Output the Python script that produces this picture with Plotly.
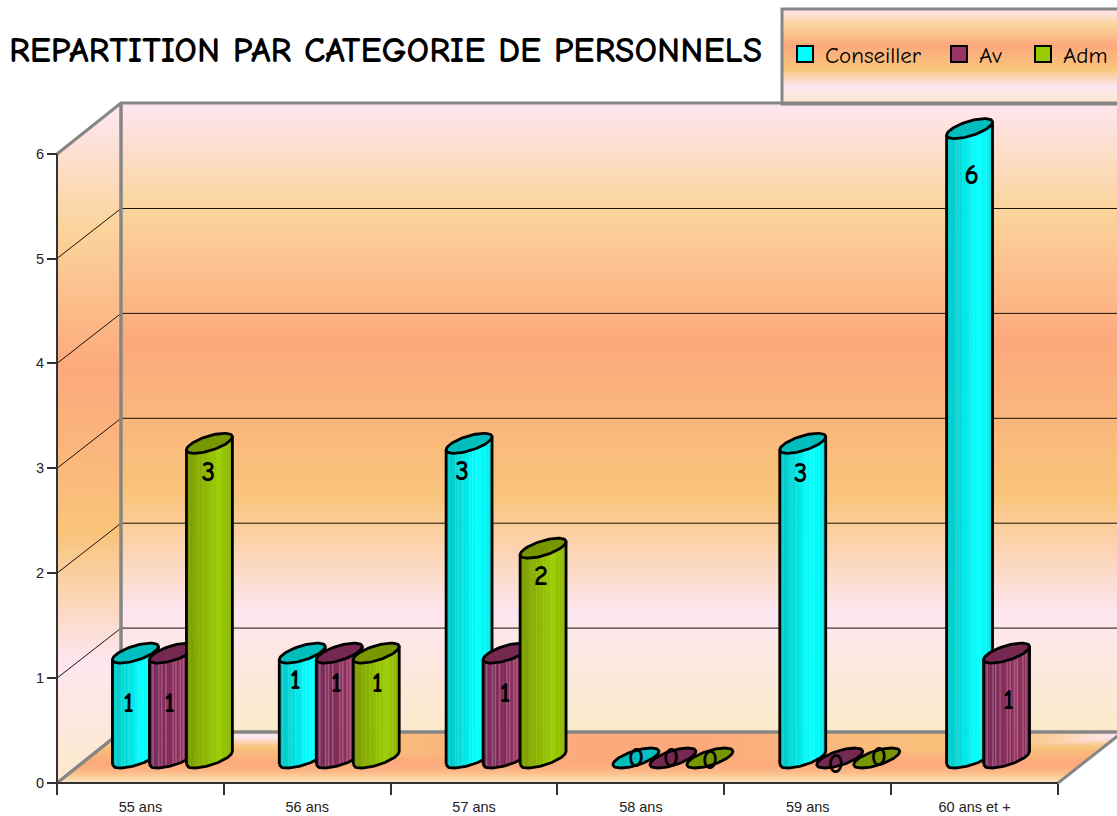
import math
import numpy as np
import plotly.graph_objects as go

# ---------- data ----------
categories = ["55 ans", "56 ans", "57 ans", "58 ans", "59 ans", "60 ans et +"]
conseiller = [1, 1, 3, 0, 3, 6]
av = [1, 1, 1, 0, 0, 1]
adm = [3, 1, 2, 0, 0, None]
y_ticks = [0, 1, 2, 3, 4, 5, 6]
title_text = "REPARTITION PAR CATEGORIE DE PERSONNELS"

# ---------- geometry (pixels of the 1117x816 picture) ----------
W, H = 1117, 816
X0, Y0 = 57, 783
CAT_W = 166.83
UNIT_H = 104.9
DEPTH_X, DEPTH_Y = 64, 51
BASE_LIFT = 25
SPACING = 37
U, V, T = 17.4, 15.0, 10.0          # oblique circle of a cylinder base
R = math.hypot(U, V)
PHI = math.atan2(V, U)
OUTLINE = 2.8


def X(px):
    return (px - X0) / CAT_W


def Y(py):
    return (Y0 - py) / UNIT_H


FONT = "Comic Sans MS, Comic Neue, Noto Sans, sans-serif"
ARIAL = "Arial, Liberation Sans, sans-serif"

profile = [
    [0.00, "#FEE6EF"], [0.17, "#FBD49C"], [0.38, "#FCA97C"],
    [0.50, "#FAB67C"], [0.62, "#F9C47A"], [0.81, "#FDE6F0"], [1.00, "#FBEAC8"],
]

fig = go.Figure()


def heat(xs, ys, z):
    fig.add_trace(go.Heatmap(
        x=xs, y=ys, z=z, colorscale=profile, zmin=0, zmax=1,
        showscale=False, hoverinfo="skip", showlegend=False))


# back wall
wy = np.arange(103, 733.01, 2.0)
mid = (wy[:-1] + wy[1:]) / 2
heat([X(121), X(W + 5)], [Y(v) for v in wy],
     [[float((m - 103) / 630)] for m in mid])

# side wall (a parallelogram with horizontal colour bands)
sx = np.arange(57, 122.01, 1.0)
sy = np.arange(103, 784.01, 1.0)
z = []
for py in (sy[:-1] + sy[1:]) / 2:
    row = []
    for px in (sx[:-1] + sx[1:]) / 2:
        top = 154 - (px - 57) * 51 / 64
        inside = top <= py <= top + 629
        row.append(min(1.0, float((py - 112) / 678)) if inside else None)
    z.append(row)
heat([X(v) for v in sx], [Y(v) for v in sy], z)

# floor (a parallelogram with a two-way texture)
fx = np.arange(57, W + 6.01, 2.0)
fy = np.arange(732, 783.01, 1.0)
ax_px = [57, 250, 330, 400, 520, 700, 800, 900, 1000, 1060, 1125]
ax_s = [.85, .85, .75, .55, .40, .38, .50, .57, .60, .70, .84]
by_px = [732, 735, 748, 760, 772, 783]
by_s = [.88, .85, .60, .42, .30, .04]
z = []
for py in (fy[:-1] + fy[1:]) / 2:
    b = float(np.interp(py, by_px, by_s))
    shift = (783 - py) * 64 / 51
    row = []
    for px in (fx[:-1] + fx[1:]) / 2:
        inside = 57 + shift <= px <= 1058 + shift
        row.append(min(float(np.interp(px, ax_px, ax_s)), b) if inside else None)
    z.append(row)
heat([X(v) for v in fx], [Y(v) for v in fy], z)


def line(pts, color, width):
    fig.add_trace(go.Scatter(
        x=[X(p[0]) if p else None for p in pts],
        y=[Y(p[1]) if p else None for p in pts],
        mode="lines", line=dict(color=color, width=width),
        hoverinfo="skip", showlegend=False))


# grid lines on walls
pts = []
for v in y_ticks[1:-1]:
    yf = Y0 - v * UNIT_H
    pts += [(57, yf), (121, yf - DEPTH_Y + 1), (W + 5, yf - DEPTH_Y + 1), None]
line(pts, "#1a1208", 1)

# wall edges
line([(57, 154), (121, 103), (W + 5, 103)], "#868686", 3)
line([(121, 103), (121, 732)], "#868686", 3.5)
line([(W + 5, 732), (121, 732), (57, 783)], "#868686", 3.5)
line([(1058, 783), (1124, 731)], "#868686", 3)
line([(57, 154), (57, 783), (1058, 783)], "#333333", 2)

# ---------- cylinders ----------
series = [
    dict(name="Conseiller", values=conseiller, top="#00BEBE", swatch="#00FFFF", stripe=0.12,
         stops=[(0, "#00C4C4"), (.25, "#00D8D8"), (.5, "#00F0F0"), (.62, "#00FFFF"), (.85, "#00FAFA"), (1, "#00D8D8")]),
    dict(name="Av", values=av, top="#752850", swatch="#993366", stripe=0.22,
         stops=[(0, "#7A2C5C"), (.5, "#862C5A"), (.75, "#96325F"), (1, "#7E2A55")]),
    dict(name="Adm", values=adm, top="#789600", swatch="#99CC00", stripe=0.08,
         stops=[(0, "#7A9900"), (.4, "#8DB800"), (.72, "#9ACD00"), (1, "#8AB000")]),
]
stripe_on = [0, 0, 1, 0, 0, 0, 1, 0, 1, 0, 0, 1, 0, 0, 0, 0, 1, 0, 1, 0, 0, 1, 0, 1, 0, 0, 0, 1, 0, 1, 0, 0]
N_BANDS = len(stripe_on)

# label placement relative to the cylinder (pixels), one per category and series
label_dx = [[-7, -7, -7, 0, -2, 2], [-3, -3, -1, -2, -4, 2], [-1, 1, -2, 0, 2, 0]]
label_dy = [[50, 27, 28, 0, 30, 47], [50, 30, 40, 0, 6, 47], [29, 30, 28, 2, -1, 0]]


def hex2rgb(h):
    return np.array([int(h[i:i + 2], 16) for i in (1, 3, 5)], float)


def shade(stops, p, stripe):
    ps = [a for a, _ in stops]
    cs = np.array([hex2rgb(c) for _, c in stops])
    c = np.array([np.interp(p, ps, cs[:, k]) for k in range(3)])
    c = c + (255 - c) * stripe
    return "rgb(%d,%d,%d)" % tuple(c)


def low(dx):
    d = max(-1.0, min(1.0, dx / R))
    return T * math.sin(PHI - math.acos(d))   # upward pixels of the lower arc


def centre(i, k):
    return X0 + (i + 0.5) * CAT_W + DEPTH_X / 2 + (k - 1) * SPACING


BASE = BASE_LIFT / UNIT_H

for k, s in enumerate(series):
    # body, as vertical colour bands
    for j in range(N_BANDS):
        a = -R + 2 * R * j / N_BANDS
        b = -R + 2 * R * (j + 1) / N_BANDS
        bx = b if j == N_BANDS - 1 else min(R, b + 0.6)
        xs, ys = [], []
        for i, v in enumerate(s["values"]):
            if v is None or v == 0:
                continue
            c = centre(i, k)
            xs += [X(c + a), X(c + bx), X(c + bx), X(c + a), X(c + a), None]
            ys += [BASE + low(a) / UNIT_H, BASE + low(bx) / UNIT_H,
                   BASE + v + low(bx) / UNIT_H, BASE + v + low(a) / UNIT_H,
                   BASE + low(a) / UNIT_H, None]
        fig.add_trace(go.Scatter(
            x=xs, y=ys, mode="lines", fill="toself", line=dict(width=0),
            fillcolor=shade(s["stops"], (j + .5) / N_BANDS, s["stripe"] * stripe_on[j]),
            hoverinfo="skip", showlegend=False))

    # top ellipses and outline
    tt = np.linspace(0, 2 * math.pi, 73)
    ex, ey, ox, oy = [], [], [], []
    for i, v in enumerate(s["values"]):
        if v is None:
            continue
        c = centre(i, k)
        for t in tt:
            ex.append(X(c + U * math.cos(t) + V * math.sin(t)))
            ey.append(BASE + v + T * math.sin(t) / UNIT_H)
        ex.append(None)
        ey.append(None)
        if v > 0:
            dd = np.linspace(-R, R, 41)
            ox += [X(c + d) for d in dd] + [X(c + R), None, X(c - R), X(c - R), None]
            oy += [BASE + low(d) / UNIT_H for d in dd] + \
                  [BASE + v + low(R) / UNIT_H, None,
                   BASE + low(-R) / UNIT_H, BASE + v + low(-R) / UNIT_H, None]
    fig.add_trace(go.Scatter(
        x=ex, y=ey, mode="lines", fill="toself", fillcolor=s["top"],
        line=dict(color="black", width=OUTLINE), hoverinfo="skip", showlegend=False))
    fig.add_trace(go.Scatter(
        x=ox, y=oy, mode="lines", line=dict(color="black", width=OUTLINE),
        hoverinfo="skip", showlegend=False))

# value labels drawn last so later cylinders do not hide them
for k, s in enumerate(series):
    tx, ty, tv = [], [], []
    for i, v in enumerate(s["values"]):
        if v is None:
            continue
        tx.append(X(centre(i, k) + label_dx[k][i]))
        ty.append(v + BASE - (label_dy[k][i] + 1.5) / UNIT_H)
        tv.append(str(v))
    fig.add_trace(go.Scatter(
        x=tx, y=ty, text=tv, mode="text", textposition="middle center",
        textfont=dict(family=FONT, size=28, color="black", weight="bold"),
        hoverinfo="skip", showlegend=False))

# ---------- legend box ----------
ly = np.arange(9, 105.01, 1.0)
heat([X(782), X(W + 5)], [Y(v) for v in ly],
     [[float((m - 9) / 96)] for m in (ly[:-1] + ly[1:]) / 2])
line([(W + 5, 9), (782, 9), (782, 104), (W + 5, 104)], "#868686", 3)

legend_names = ["legend", "legend2", "legend3"]
legend_px = [785, 939, 1023]
for k, s in enumerate(series):
    fig.add_trace(go.Scatter(
        x=[None], y=[None], mode="markers", name=s["name"], legend=legend_names[k],
        marker=dict(symbol="square", size=16, color=s["swatch"], line=dict(color="black", width=2))))

legend_common = dict(
    orientation="h", bgcolor="rgba(0,0,0,0)", borderwidth=0,
    xanchor="left", yanchor="middle", y=1 - 54 / H,
    font=dict(family=FONT, size=23, color="black"), itemwidth=30)

fig.update_layout(
    width=W, height=H,
    margin=dict(l=0, r=0, t=0, b=0, pad=0, autoexpand=False),
    paper_bgcolor="white", plot_bgcolor="white",
    showlegend=True,
    legend=dict(x=legend_px[0] / W, **legend_common),
    legend2=dict(x=legend_px[1] / W, **legend_common),
    legend3=dict(x=legend_px[2] / W, **legend_common),
    title=dict(text=title_text, x=9 / W, xanchor="left", xref="paper",
               y=1 - 50 / H, yanchor="middle", yref="paper",
               font=dict(family=FONT, size=35.5, color="black", weight="bold")),
    xaxis=dict(
        type="linear", range=[X(0), X(W)], anchor="free", position=(H - Y0) / H,
        showgrid=False, zeroline=False, showline=False,
        tickmode="array", tickvals=[i + .5 for i in range(len(categories))], ticktext=categories,
        ticks="outside", ticklen=11, tickcolor="rgba(0,0,0,0)",
        tickfont=dict(family=ARIAL, size=14.5, color="#222222"),
        minor=dict(tickmode="array", tickvals=list(range(len(categories) + 1)),
                   ticks="outside", ticklen=11, tickwidth=1.5, tickcolor="#333333", showgrid=False)),
    yaxis=dict(
        type="linear", range=[Y(H), Y(0)], anchor="free", position=X0 / W,
        showgrid=False, zeroline=False, showline=False,
        tickmode="array", tickvals=y_ticks,
        ticks="outside", ticklen=10, tickwidth=1.5, tickcolor="#333333",
        tickfont=dict(family=ARIAL, size=14.5, color="#222222")),
)

fig.write_html("out.html", config=dict(displayModeBar=False),
               post_script="document.body.style.margin='0';document.body.style.overflow='hidden';")
